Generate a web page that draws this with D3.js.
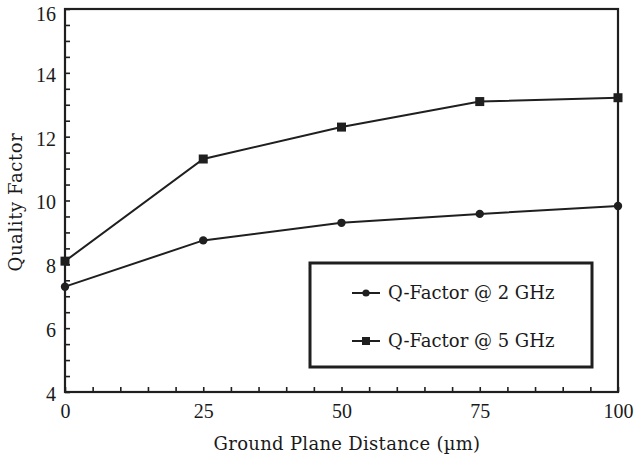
<!DOCTYPE html>
<html>
<head>
<meta charset="utf-8">
<script src="https://cdn.jsdelivr.net/npm/d3@7"></script>
<style>
  html, body { margin: 0; padding: 0; background: #fff; }
  text { font-family: "DejaVu Serif", "Liberation Serif", serif; fill: #1a1a1a; }
  .tick text { font-family: "Liberation Serif", "DejaVu Serif", serif; }
</style>
</head>
<body>
<svg id="chart" width="634" height="456"></svg>
<script>
// Ground plane distance (µm) and the measured quality factor at two frequencies
const distances = [0, 25, 50, 75, 100];
const q2GHz = [7.3, 8.75, 9.3, 9.58, 9.83];
const q5GHz = [8.1, 11.3, 12.3, 13.1, 13.22];
const seriesNames = ["Q-Factor @ 2 GHz", "Q-Factor @ 5 GHz"];
const xTickValues = [0, 25, 50, 75, 100];
const yTickValues = [4, 6, 8, 10, 12, 14, 16];

const svg = d3.select("#chart");
const margin = { left: 65, right: 16, top: 9, bottom: 64 };
const W = 634, H = 456;
const x = d3.scaleLinear().domain([0, 100]).range([margin.left, W - margin.right]);
const y = d3.scaleLinear().domain([4, 16]).range([H - margin.bottom, margin.top]);
const ink = "#1f1f1f";

// minor ticks (inward)
const xMinor = d3.range(0, 100.001, 5);
const yMinor = d3.range(4, 16.001, 0.5);
svg.append("g").attr("transform", `translate(0,${y(4)})`)
  .call(d3.axisTop(x).tickValues(xMinor).tickSize(5).tickFormat(""))
  .call(g => g.select(".domain").remove())
  .selectAll("line").attr("stroke", ink).attr("stroke-width", 1.6);
svg.append("g").attr("transform", `translate(${x(0)},0)`)
  .call(d3.axisRight(y).tickValues(yMinor).tickSize(5).tickFormat(""))
  .call(g => g.select(".domain").remove())
  .selectAll("line").attr("stroke", ink).attr("stroke-width", 1.6);

// tick labels
const xAxis = svg.append("g").attr("transform", `translate(0,${y(4)})`)
  .call(d3.axisBottom(x).tickValues(xTickValues).tickSize(0).tickPadding(12).tickFormat(d3.format("d")));
xAxis.select(".domain").remove();
xAxis.selectAll("text").style("font-size", "20px").attr("fill", ink);

const yAxis = svg.append("g").attr("transform", `translate(${x(0)},0)`)
  .call(d3.axisLeft(y).tickValues(yTickValues).tickSize(0).tickPadding(9).tickFormat(d3.format("d")));
yAxis.select(".domain").remove();
yAxis.selectAll("text").style("font-size", "20px").attr("fill", ink)
  .attr("dy", d => d === 16 ? "0.55em" : "0.42em");

// plot frame
svg.append("rect")
  .attr("x", x(0)).attr("y", y(16))
  .attr("width", x(100) - x(0)).attr("height", y(4) - y(16))
  .attr("fill", "none").attr("stroke", ink).attr("stroke-width", 2.2);

// series
const line = d3.line().x(d => x(d[0])).y(d => y(d[1]));
const s2 = distances.map((d, i) => [d, q2GHz[i]]);
const s5 = distances.map((d, i) => [d, q5GHz[i]]);

[s2, s5].forEach(s => {
  svg.append("path").datum(s).attr("d", line)
    .attr("fill", "none").attr("stroke", ink).attr("stroke-width", 2);
});
svg.append("g").selectAll("circle").data(s2).join("circle")
  .attr("cx", d => x(d[0])).attr("cy", d => y(d[1])).attr("r", 4.2).attr("fill", ink);
svg.append("g").selectAll("rect").data(s5).join("rect")
  .attr("x", d => x(d[0]) - 4.5).attr("y", d => y(d[1]) - 4.5)
  .attr("width", 9).attr("height", 9).attr("fill", ink);

// legend
const lg = svg.append("g");
lg.append("rect").attr("x", 310).attr("y", 263).attr("width", 282).attr("height", 104)
  .attr("fill", "#fff").attr("stroke", ink).attr("stroke-width", 3);
const rows = [293, 341];
rows.forEach((ry, i) => {
  lg.append("line").attr("x1", 352).attr("x2", 380).attr("y1", ry).attr("y2", ry)
    .attr("stroke", ink).attr("stroke-width", 2);
  if (i === 0) {
    lg.append("circle").attr("cx", 366).attr("cy", ry).attr("r", 3.6).attr("fill", ink);
  } else {
    lg.append("rect").attr("x", 362).attr("y", ry - 4).attr("width", 8).attr("height", 8).attr("fill", ink);
  }
  lg.append("text").attr("x", 388).attr("y", ry).attr("dy", "0.35em")
    .style("font-size", "18px").text(seriesNames[i]);
});

// axis titles
svg.append("text").attr("x", 347).attr("y", 444).attr("dy", "0.35em")
  .attr("text-anchor", "middle").style("font-size", "18px").style("letter-spacing", "0.3px")
  .text("Ground Plane Distance (µm)");
svg.append("text").attr("transform", "translate(16,202) rotate(-90)").attr("dy", "0.35em")
  .attr("text-anchor", "middle").style("font-size", "18px").style("letter-spacing", "0.6px")
  .text("Quality Factor");
</script>
</body>
</html>
